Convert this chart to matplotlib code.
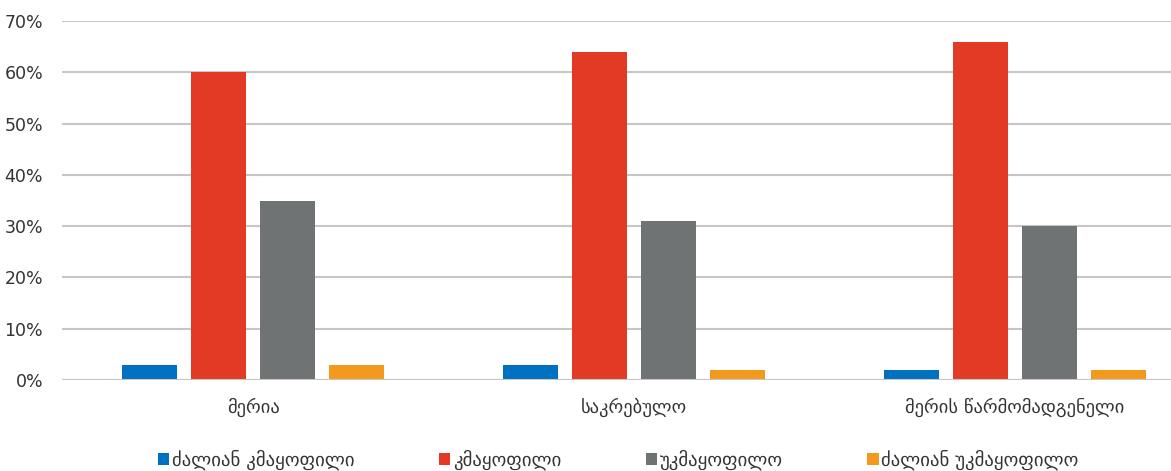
import matplotlib
matplotlib.use("Agg")
import matplotlib.pyplot as plt
import numpy as np
from matplotlib.patches import Patch

categories = ["მერია", "საკრებულო", "მერის წარმომადგენელი"]
series_names = ["ძალიან კმაყოფილი", "კმაყოფილი", "უკმაყოფილო", "ძალიან უკმაყოფილო"]
very_satisfied = [3, 3, 2]
satisfied = [60, 64, 66]
dissatisfied = [35, 31, 30]
very_dissatisfied = [3, 2, 2]
colors = ["#0070C0", "#E33A25", "#707374", "#F39A1E"]
yticks = [0, 10, 20, 30, 40, 50, 60, 70]

plt.rcParams['font.family'] = ['DejaVu Sans']
fig = plt.figure(figsize=(11.71, 4.71), dpi=100)
ax = fig.add_axes([62.5/1171, 91/471, 1143/1171, 359/471])

x = np.arange(len(categories))
series = [very_satisfied, satisfied, dissatisfied, very_dissatisfied]
width = 0.144
step = 0.181
for i, (vals, c) in enumerate(zip(series, colors)):
    ax.bar(x + (i - 1.5) * step, vals, width=width, color=c, zorder=3)

ax.set_xlim(-0.5, 2.5)
ax.set_ylim(0, 70)
ax.set_yticks(yticks)
ax.set_yticklabels([f"{v}%" for v in yticks], fontsize=12.5, color="#333333")
ax.set_xticks(x)
ax.set_xticklabels(categories, fontsize=13.3, color="#333333")
ax.tick_params(axis='both', length=0)
ax.tick_params(axis='x', pad=13)
ax.tick_params(axis='y', pad=14)
ax.yaxis.grid(True, color="#c6c6c6", linewidth=1.5, zorder=0)
for s in ax.spines.values():
    s.set_visible(False)
ax.axhline(0, color="#c6c6c6", linewidth=1.5, zorder=4)

handles = [Patch(facecolor=c) for c in colors]
fig.legend(handles, series_names, loc='center', bbox_to_anchor=(0.528, 11/471),
           ncol=4, frameon=False, fontsize=13.5, handlelength=0.6, handleheight=0.6,
           handletextpad=0.15, columnspacing=4.5, labelcolor="#333333")

fig.savefig("out.png", dpi=100)
